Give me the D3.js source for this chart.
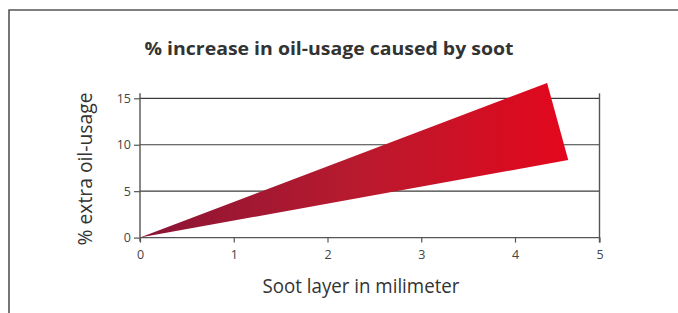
<!DOCTYPE html>
<html><head><meta charset="utf-8">
<script src="https://cdn.jsdelivr.net/npm/d3@7"></script>
<style>body{margin:0;background:#fff;}svg{display:block;font-family:"Open Sans",sans-serif;}</style>
</head><body>
<script>
const title = "% increase in oil-usage caused by soot";
const xTitle = "Soot layer in milimeter";
const yTitle = "% extra oil-usage";
const xTicks = [0, 1, 2, 3, 4, 5];
const yTicks = [0, 5, 10, 15];
// wedge polygon vertices: [soot mm, % extra]
const wedgeX = [0, 4.38, 4.63];
const wedgeY = [0, 16.65, 8.35];

const W = 678, H = 313;
const svg = d3.select("body").append("svg").attr("width", W).attr("height", H);

// frame
svg.append("path").attr("d", "M9,313 V10 H678").attr("fill", "none")
  .attr("stroke", "#555").attr("stroke-width", 1.6);

const x = d3.scaleLinear().domain([0, 4, 5]).range([140, 515, 599.5]);
const y = d3.scaleLinear().domain([0, 15]).range([237.6, 98.3]);

// gradient
const defs = svg.append("defs");
const g = defs.append("linearGradient").attr("id", "grad")
  .attr("gradientUnits", "userSpaceOnUse")
  .attr("x1", x(0)).attr("x2", x(4.63)).attr("y1", 0).attr("y2", 0);
g.append("stop").attr("offset", "0%").attr("stop-color", "#8a1536");
g.append("stop").attr("offset", "50%").attr("stop-color", "#b81a2e");
g.append("stop").attr("offset", "100%").attr("stop-color", "#e3071c");

// gridlines
svg.append("g").selectAll("line").data(yTicks.filter(d => d > 0)).join("line")
  .attr("x1", x(0)).attr("x2", x(5)).attr("y1", d => y(d)).attr("y2", d => y(d))
  .attr("stroke", "#3c3c3c").attr("stroke-width", 1.2);

// wedge
const pts = wedgeX.map((v, i) => [x(v), y(wedgeY[i])]);
svg.append("path").attr("d", d3.line()(pts) + "Z").attr("fill", "url(#grad)");

// axes
const xAxis = svg.append("g").attr("transform", `translate(0,${y(0)})`)
  .call(d3.axisBottom(x).tickValues(xTicks).tickFormat(d3.format("d")).tickSize(5).tickSizeOuter(0));
const yAxis = svg.append("g").attr("transform", `translate(${x(0)},0)`)
  .call(d3.axisLeft(y).tickValues(yTicks).tickSize(6).tickSizeOuter(0));
const yAxisR = svg.append("g").attr("transform", `translate(${x(5)},0)`)
  .call(d3.axisRight(y).tickValues([]).tickSizeOuter(0));
[xAxis, yAxis, yAxisR].forEach(a => {
  a.select(".domain").attr("stroke", "#555").attr("stroke-width", 1.4);
  a.selectAll(".tick line").attr("stroke", "#555").attr("stroke-width", 1.2);
  a.selectAll("text").attr("fill", "#444").attr("font-size", 12.5)
    .attr("font-family", "'Open Sans',sans-serif");
});
// extend vertical axis lines slightly beyond range like reference
yAxis.select(".domain").attr("d", `M0,${y(0)+4}V${y(15)-5}`);
yAxisR.select(".domain").attr("d", `M0,${y(0)+5}V${y(15)-5}`);
xAxis.select(".domain").attr("d", `M${x(0)},0H${x(5)}`);
xAxis.selectAll(".tick text").attr("dy", "1.1em");
yAxis.selectAll(".tick text").attr("x", -9);

// titles
svg.append("text").attr("x", 329).attr("y", 55).attr("text-anchor", "middle")
  .attr("font-weight", "bold").attr("font-size", 18).attr("fill", "#333")
  .attr("textLength", 369).attr("lengthAdjust", "spacingAndGlyphs").text(title);
svg.append("text").attr("x", 361).attr("y", 293).attr("text-anchor", "middle")
  .attr("font-size", 19.5).attr("fill", "#333")
  .attr("textLength", 197).attr("lengthAdjust", "spacingAndGlyphs").text(xTitle);
svg.append("text").attr("transform", "translate(92,169) rotate(-90)")
  .attr("text-anchor", "middle").attr("font-size", 19.5).attr("fill", "#333")
  .attr("textLength", 153).attr("lengthAdjust", "spacingAndGlyphs").text(yTitle);
</script>
</body></html>
